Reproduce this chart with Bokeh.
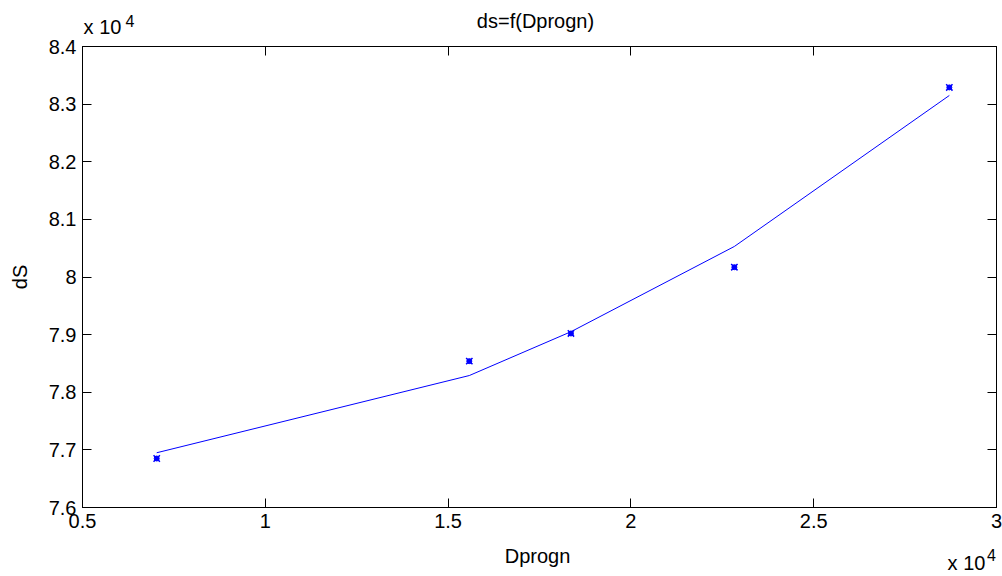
import math
from bokeh.plotting import figure
from bokeh.models import Range1d, FixedTicker, LinearAxis
from bokeh.embed import file_html
from bokeh.resources import INLINE

# ---- data ----
dprogn = [7030, 15580, 18360, 22830, 28710]
ds_measured = [76850, 78540, 79020, 80170, 83290]
ds_fit = [76950, 78290, 79050, 80530, 83150]

x_ticks = [5000, 10000, 15000, 20000, 25000, 30000]
x_tick_labels = ["0.5", "1", "1.5", "2", "2.5", "3"]
y_ticks = [76000, 77000, 78000, 79000, 80000, 81000, 82000, 83000, 84000]
y_tick_labels = ["7.6", "7.7", "7.8", "7.9", "8", "8.1", "8.2", "8.3", "8.4"]

title_text = "ds=f(Dprogn)"
x_label_text = "Dprogn"
y_label_text = "dS"
exp_base = "x 10"
exp_power = "4"

FONT = "Liberation Sans"
BLUE = "#0000ff"

X0, X1 = 5000, 30000
FRAME_L, FRAME_W = 82, 914


def px_to_x(px):
    # page pixel -> data x (used only to place text labels)
    return X0 + (px - FRAME_L) * (X1 - X0) / FRAME_W


p = figure(width=1002, height=576, output_backend="svg", toolbar_location=None,
           x_range=Range1d(X0, X1), y_range=Range1d(76000, 84000),
           min_border_left=82, min_border_right=6, min_border_top=46, min_border_bottom=68)
p.background_fill_color = "white"
p.border_fill_color = "white"
p.outline_line_color = "black"
p.grid.visible = False
p.title.text = ""
p.title.visible = False


def style_axis(ax, ticks, labels, show_labels=True):
    ax.ticker = FixedTicker(ticks=ticks)
    ax.major_label_overrides = {t: (l if show_labels else "") for t, l in zip(ticks, labels)}
    ax.major_tick_in = 9
    ax.major_tick_out = 0
    ax.minor_tick_line_color = None
    ax.axis_line_color = "black"
    ax.major_tick_line_color = "black"
    ax.major_label_text_font = FONT
    ax.major_label_text_font_size = "20px" if show_labels else "0px"
    ax.major_label_text_color = "black"
    ax.major_label_standoff = 6 if show_labels else 0
    ax.axis_label_text_font = FONT
    ax.axis_label_text_font_size = "20px"
    ax.axis_label_text_font_style = "normal"
    ax.axis_label_text_color = "black"


def text_axis(side, positions, texts, size, standoff):
    ax = LinearAxis()
    ax.ticker = FixedTicker(ticks=positions)
    ax.major_label_overrides = {t: s for t, s in zip(positions, texts)}
    ax.major_tick_line_color = None
    ax.minor_tick_line_color = None
    ax.major_tick_in = 0
    ax.major_tick_out = 0
    ax.axis_line_color = None
    ax.major_label_text_font = FONT
    ax.major_label_text_font_size = size
    ax.major_label_text_color = "black"
    ax.major_label_standoff = standoff
    p.add_layout(ax, side)
    return ax


style_axis(p.xaxis[0], x_ticks, x_tick_labels)
style_axis(p.yaxis[0], y_ticks, y_tick_labels)
p.yaxis[0].axis_label = y_label_text
p.yaxis[0].axis_label_standoff = 15

top_axis = LinearAxis()
style_axis(top_axis, x_ticks, x_tick_labels, show_labels=False)
p.add_layout(top_axis, "above")
right_axis = LinearAxis()
style_axis(right_axis, y_ticks, y_tick_labels, show_labels=False)
p.add_layout(right_axis, "right")

# text rows above the frame (stacked outward)
text_axis("above", [px_to_x(102)], [exp_base], "20px", 9)
text_axis("above", [px_to_x(535)], [title_text], "20px", -19)
text_axis("above", [px_to_x(129.5)], [exp_power], "16px", -20)

# text rows below the frame (stacked outward)
text_axis("below", [px_to_x(537)], [x_label_text], "20px", 14)
text_axis("below", [px_to_x(966)], [exp_base], "20px", -18)
text_axis("below", [px_to_x(991)], [exp_power], "16px", -28)

# fitted line
p.line(dprogn, ds_fit, line_color=BLUE, line_width=1)
# measured points
p.scatter(dprogn, ds_measured, marker="x", size=9, line_color=BLUE, line_width=1.5)
p.scatter(dprogn, ds_measured, marker="circle", size=5, fill_color=BLUE, line_color=BLUE)

open("out.html", "w").write(file_html(p, INLINE))
